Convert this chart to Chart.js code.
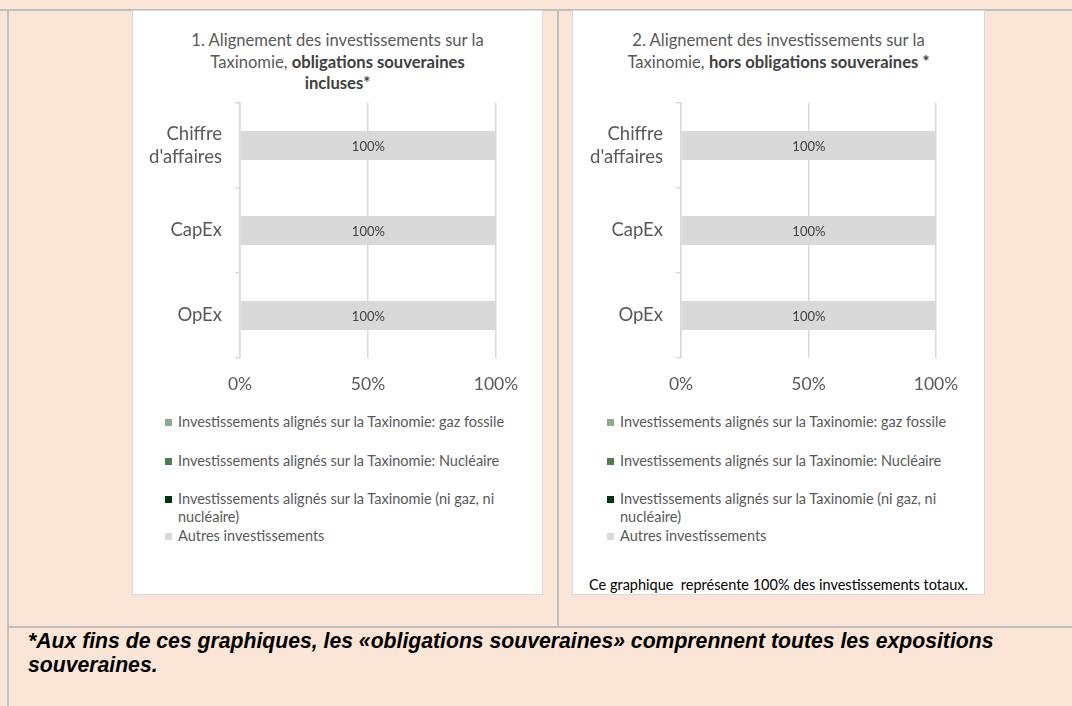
<!DOCTYPE html>
<html>
<head>
<meta charset="utf-8">
<script src="https://cdn.jsdelivr.net/npm/chart.js@4.4.1/dist/chart.umd.min.js"></script>
<style>
  html, body { margin:0; padding:0; }
  body { width:1072px; height:706px; background:#FBE5D6; position:relative; overflow:hidden; font-family:Lato, "Open Sans", sans-serif; }
  .line { position:absolute; background:#BFBFBF; }
  .panel { position:absolute; background:#fff; border:1.5px solid #D9D9D9; box-sizing:border-box; }
  .title { position:absolute; left:0; width:100%; text-align:center; color:#595959; font-size:16.6px; line-height:21.5px; }
  .title b { color:#404040; font-weight:700; }
  .cv { position:absolute; }
  .legend { position:absolute; color:#595959; font-size:14.5px; line-height:18px; width:352px; }
  .legend .it { display:flex; align-items:flex-start; }
  .legend .sw { width:7px; height:7px; margin-top:5.5px; margin-right:6px; flex:none; }
  .note { position:absolute; left:0; width:100%; text-align:center; color:#000; font-size:14.5px; }
  .foot { position:absolute; left:28px; top:629px; width:1030px; font-family:"Liberation Sans", Arial, sans-serif; font-weight:bold; font-style:italic; font-size:21.2px; line-height:24px; color:#000; }
</style>
</head>
<body>
<div class="line" style="left:0;top:9px;width:1072px;height:2px;"></div>
<div class="line" style="left:7px;top:9px;width:2px;height:697px;"></div>
<div class="line" style="left:557px;top:9px;width:2px;height:618px;"></div>
<div class="line" style="left:7px;top:626px;width:1065px;height:2px;"></div>

<div class="panel" id="p1" style="left:132px;top:10px;width:411px;height:585px;">
  <div class="title" style="top:19px;">1. Alignement des investissements sur la<br>Taxinomie, <b>obligations souveraines</b><br><b>incluses*</b></div>
</div>
<div class="panel" id="p2" style="left:572px;top:10px;width:413px;height:585px;">
  <div class="title" style="top:19px;">2. Alignement des investissements sur la<br>Taxinomie, <b>hors obligations souveraines</b> <b>*</b></div>
  <div class="note" style="top:565px;">Ce graphique&nbsp; représente 100% des investissements totaux.</div>
</div>

<canvas id="c1" class="cv" style="left:133px;top:95px;" width="409" height="303"></canvas>
<canvas id="c2" class="cv" style="left:573px;top:95px;" width="411" height="303"></canvas>

<div class="legend" id="lg1" style="left:165px;top:413px;"></div>
<div class="legend" id="lg2" style="left:607px;top:413px;"></div>

<div class="foot">*Aux fins de ces graphiques, les «obligations souveraines» comprennent toutes les expositions souveraines.</div>

<script>
// ---- data ----
const categories = [["Chiffre", "d'affaires"], "CapEx", "OpEx"];
const seriesNames = [
  "Investissements alignés sur la Taxinomie: gaz fossile",
  "Investissements alignés sur la Taxinomie: Nucléaire",
  "Investissements alignés sur la Taxinomie (ni gaz, ni nucléaire)",
  "Autres investissements"
];
const seriesColors = ["#8EAA8C", "#4E7B4F", "#003310", "#D9D9D9"];
// chart 1: obligations souveraines incluses
const chart1GazFossile = [0, 0, 0];
const chart1Nucleaire = [0, 0, 0];
const chart1NiGazNiNucleaire = [0, 0, 0];
const chart1Autres = [100, 100, 100];
// chart 2: hors obligations souveraines
const chart2GazFossile = [0, 0, 0];
const chart2Nucleaire = [0, 0, 0];
const chart2NiGazNiNucleaire = [0, 0, 0];
const chart2Autres = [100, 100, 100];
const xTickValues = [0, 50, 100];

const FONT = "Lato";
const GRID = "#D9D9D9";

const valueLabels = {
  id: 'valueLabels',
  afterDatasetsDraw(chart) {
    const ctx = chart.ctx;
    ctx.save();
    ctx.font = "13px " + FONT;
    ctx.fillStyle = "#404040";
    ctx.textAlign = "center";
    ctx.textBaseline = "middle";
    chart.data.datasets.forEach((ds, i) => {
      const meta = chart.getDatasetMeta(i);
      meta.data.forEach((el, j) => {
        const v = ds.data[j];
        if (v > 0) {
          ctx.fillText(v + "%", (el.x + el.base) / 2, el.y + 1);
        }
      });
    });
    ctx.restore();
  }
};

function makeChart(id, series, yWidth, padRight) {
  const datasets = series.map((d, i) => ({
    label: seriesNames[i],
    data: d,
    backgroundColor: seriesColors[i],
    borderWidth: 0,
    categoryPercentage: 1,
    barPercentage: 0.34
  }));
  return new Chart(document.getElementById(id), {
    type: 'bar',
    data: { labels: categories, datasets },
    options: {
      indexAxis: 'y',
      responsive: false,
      animation: false,
      layout: { autoPadding: false, padding: { top: 8, right: padRight, left: 0, bottom: 0 } },
      plugins: { legend: { display: false }, tooltip: { enabled: false } },
      scales: {
        x: {
          stacked: true,
          min: 0, max: 100,
          afterBuildTicks: (s) => { s.ticks = xTickValues.map(v => ({ value: v })); },
          grid: { color: GRID, lineWidth: 1.5, drawTicks: false },
          border: { display: false },
          ticks: { padding: 16, color: "#595959", font: { family: FONT, size: 17.5 }, callback: v => v + "%", maxRotation: 0 },
          afterFit: (s) => { s.height = 40; s.paddingLeft = 0; s.paddingRight = 0; }
        },
        y: {
          stacked: true,
          grid: { color: GRID, lineWidth: 1.5, drawOnChartArea: false, tickLength: 5, offset: true },
          border: { color: GRID, width: 1.5 },
          ticks: { padding: 13, color: "#595959", font: { family: FONT, size: 18.5, lineHeight: 1.25 } },
          afterFit: (s) => { s.width = yWidth; s.paddingTop = 0; s.paddingBottom = 0; }
        }
      }
    },
    plugins: [valueLabels]
  });
}

makeChart('c1', [chart1GazFossile, chart1Nucleaire, chart1NiGazNiNucleaire, chart1Autres], 107, 46);
makeChart('c2', [chart2GazFossile, chart2Nucleaire, chart2NiGazNiNucleaire, chart2Autres], 108, 48);

function buildLegend(elId) {
  const el = document.getElementById(elId);
  const gaps = [21, 20, 1, 0];
  seriesNames.forEach((name, i) => {
    const it = document.createElement('div');
    it.className = 'it';
    it.style.marginBottom = gaps[i] + 'px';
    const sw = document.createElement('span');
    sw.className = 'sw';
    sw.style.background = seriesColors[i];
    const tx = document.createElement('span');
    tx.textContent = name;
    it.appendChild(sw); it.appendChild(tx);
    el.appendChild(it);
  });
}
buildLegend('lg1');
buildLegend('lg2');
</script>
</body>
</html>
